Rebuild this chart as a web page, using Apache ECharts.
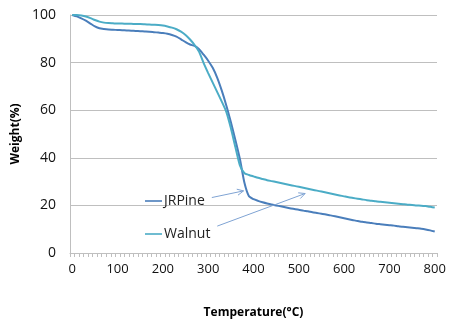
<!DOCTYPE html>
<html><head><meta charset="utf-8">
<script src="https://cdn.jsdelivr.net/npm/echarts@6/dist/echarts.min.js"></script>
<style>html,body{margin:0;padding:0;background:#fff}#c{width:451px;height:324px}</style>
</head><body><div id="c"></div>
<script>
const temperatures = [0,10,20,30,40,50,60,70,80,90,100,110,120,130,140,150,160,170,180,190,200,210,220,230,240,250,260,270,280,290,300,310,320,330,340,350,360,370,380,390,400,410,420,430,440,450,460,470,480,490,500,510,520,530,540,550,560,570,580,590,600,610,620,630,640,650,660,670,680,690,700,710,720,730,740,750,760,770,780,790,800];
const jrpine = [100,99.4,98.6,97.6,96.4,95.2,94.4,94.1,93.9,93.8,93.7,93.6,93.5,93.4,93.3,93.2,93.1,93.0,92.8,92.6,92.4,92.1,91.6,90.9,89.8,88.6,87.6,87.0,85.6,83.3,80.8,77.8,73.6,68.2,62.0,55.0,47.5,39.5,29.5,23.8,22.6,21.9,21.3,20.8,20.4,20.0,19.6,19.2,18.8,18.5,18.2,17.8,17.5,17.1,16.8,16.5,16.2,15.8,15.4,15.0,14.6,14.2,13.8,13.4,13.1,12.8,12.6,12.3,12.1,11.9,11.7,11.5,11.2,11.0,10.8,10.6,10.4,10.2,9.9,9.5,9.0];
const walnut = [100,100,99.8,99.4,98.7,97.9,97.2,96.8,96.6,96.5,96.4,96.4,96.3,96.3,96.2,96.2,96.1,96.0,95.9,95.8,95.6,95.2,94.7,94.0,93.0,91.6,89.7,87.4,84.5,79.8,75.6,71.6,67.6,63.6,59.3,52.5,44.5,36.8,33.5,32.8,32.2,31.6,31.1,30.6,30.2,29.8,29.4,29.0,28.6,28.2,27.8,27.4,27.0,26.6,26.2,25.8,25.4,25.0,24.6,24.2,23.8,23.4,23.1,22.8,22.5,22.2,22.0,21.7,21.5,21.3,21.1,20.9,20.7,20.5,20.3,20.2,20.0,19.9,19.7,19.4,19.1];
const yTicks = [0,20,40,60,80,100];
// annotation arrows (label -> curve), in data units [temperature, weight]
const arrowJRPine = [[308, 23.3], [378, 26.1]];
const arrowWalnut = [[320, 11.3], [514, 25.0]];

const colJR = '#4A7EBB', colW = '#4BACC6';
const font = 'Open Sans';
const chart = echarts.init(document.getElementById('c'), null, {renderer:'canvas'});
chart.setOption({
  animation:false,
  grid:{left:70,right:14,top:15,bottom:69},
  legend:{
    orient:'vertical', left:140, top:189, itemGap:19,
    itemWidth:17, itemHeight:14,
    textStyle:{fontFamily:font,fontSize:14,color:'#222',padding:[0,0,0,-3]},
    data:[{name:'JRPine',icon:'path://M0,5.8h17v1.6h-17z'},{name:'Walnut',icon:'path://M0,5.8h17v1.6h-17z'}]
  },
  xAxis:{
    type:'category', data:temperatures.map(String), boundaryGap:true,
    name:'Temperature(°C)', nameLocation:'middle', nameGap:54,
    nameTextStyle:{fontFamily:font,fontSize:12,fontWeight:'bold',color:'#000'},
    axisLine:{lineStyle:{color:'#BFBFBF',width:1}},
    axisTick:{show:true,interval:0,length:4,lineStyle:{color:'#BFBFBF'}},
    axisLabel:{interval:9,margin:10,fontFamily:font,fontSize:13,color:'#111'},
    splitLine:{show:false}
  },
  yAxis:{
    type:'value', min:0, max:100, interval:20,
    name:'Weight(%)', nameLocation:'middle', nameGap:45,
    nameTextStyle:{fontFamily:font,fontSize:12,fontWeight:'bold',color:'#000'},
    axisLine:{show:true,lineStyle:{color:'#BFBFBF'}},
    axisTick:{show:false},
    axisLabel:{margin:14,fontFamily:font,fontSize:14,color:'#111',
      formatter:v=> yTicks.includes(v)? String(v):''},
    splitLine:{lineStyle:{color:'#BFBFBF',width:1}}
  },
  series:[
    {name:'JRPine',type:'line',data:jrpine,showSymbol:false,smooth:0.2,
     lineStyle:{color:colJR,width:2},itemStyle:{color:colJR}},
    {name:'Walnut',type:'line',data:walnut,showSymbol:false,smooth:0.2,
     lineStyle:{color:colW,width:2},itemStyle:{color:colW}}
  ]
});

function toPx(t, v){
  const a = chart.convertToPixel({gridIndex:0},[0, v]);
  const b = chart.convertToPixel({gridIndex:0},[temperatures.length-1, v]);
  const f = t/temperatures[temperatures.length-1];
  return [a[0]+(b[0]-a[0])*f, a[1]];
}
function arrow(def){
  const p = toPx(def[0][0],def[0][1]), q = toPx(def[1][0],def[1][1]);
  const ang = Math.atan2(q[1]-p[1], q[0]-p[0]);
  const L = 7, w = 0.45;
  const h1 = [q[0]-L*Math.cos(ang-w), q[1]-L*Math.sin(ang-w)];
  const h2 = [q[0]-L*Math.cos(ang+w), q[1]-L*Math.sin(ang+w)];
  const st = {stroke:'#7FA3D3',lineWidth:1,fill:null};
  return [
    {type:'line',shape:{x1:p[0],y1:p[1],x2:q[0],y2:q[1]},style:st,z:10},
    {type:'polyline',shape:{points:[h1,q,h2]},style:st,z:10}
  ];
}
chart.setOption({graphic:[...arrow(arrowJRPine),...arrow(arrowWalnut)]});
</script>
</body></html>
